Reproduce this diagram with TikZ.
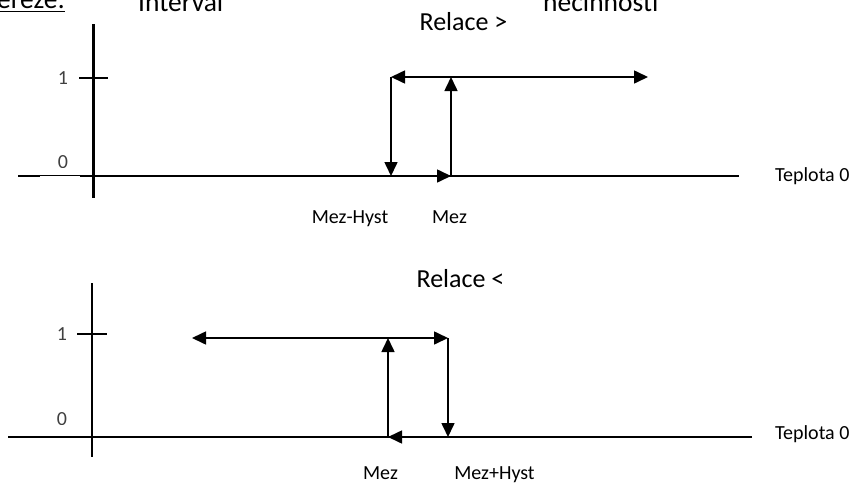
\documentclass[tikz,border=0pt]{standalone}
\usepackage{fontspec}
\setmainfont{Carlito}
\usetikzlibrary{arrows.meta}

\tikzset{
  axis/.style={line width=3pt},
  baseline axis/.style={line width=1.8pt},
  tickmark/.style={line width=2pt},
  flow/.style={line width=1.6pt, -{Triangle[length=14pt,width=13pt]}},
  both/.style={line width=1.6pt, {Triangle[length=14pt,width=13pt]}-{Triangle[length=14pt,width=13pt]}},
  lbl/.style={inner sep=0pt, anchor=base, font=\fontsize{20}{24}\selectfont},
  title/.style={inner sep=0pt, anchor=base, font=\fontsize{26}{30}\selectfont},
  head/.style={inner sep=0pt, font=\fontsize{27.5}{32}\selectfont},
  level/.style={inner sep=0pt, text=black!75, font=\fontsize{20}{24}\selectfont}
}

\begin{document}
\begin{tikzpicture}[x=1pt,y=-1pt]
\useasboundingbox (0,0) rectangle (856,482);
\clip (0,0) rectangle (856,482);

% heading line (only its lower part lies inside the page)
\node[head, anchor=base east] (hdA) at (65,8.5) {Hystereze:};
\draw[line width=1.3pt] (0,11.2) -- (65,11.2);
\node[head, anchor=base west] (hdB) at (138,11) {Interval};
\node[head, anchor=base west] (hdC) at (543,11) {nečinnosti};

% ---------------- relation ">" ----------------
\node[title] (t1) at (463.5,30) {Relace >};

\coordinate (a1top) at (93.5,24);
\coordinate (a1bot) at (93.5,198);
\draw[axis] (a1top) -- (a1bot);
\coordinate (k1l) at (79,78);
\coordinate (k1r) at (108,78);
\draw[tickmark] (k1l) -- (k1r);
\node[level] (one1) at (63,78) {1};
\begin{scope}
  \clip (40,140) rectangle (85,167.5);
  \node[level] (zero1) at (63,162) {0};
\end{scope}

% temperature axis
\coordinate (x1a) at (18,176);
\coordinate (x1b) at (40,176);
\coordinate (x1c) at (80,176);
\coordinate (x1d) at (739,176);
\draw[baseline axis] (x1a) -- (x1b);
\draw[line width=0.9pt] ([yshift=0.4pt]x1b) -- ([yshift=0.4pt]x1c);
\draw[baseline axis] (x1c) -- (x1d);
\node[lbl, anchor=base west] (temp1) at (775,181) {Teplota 0};

% hysteresis loop
\coordinate (o1) at (93.5,176);
\coordinate (m1) at (451,176);
\coordinate (m1top) at (451,77);
\coordinate (h1) at (391,176);
\coordinate (h1top) at (391,77);
\coordinate (r1) at (648,77);
\draw[flow] (o1) -- (m1);
\draw[flow] (m1) -- (m1top);
\draw[flow] (h1top) -- (h1);
\draw[both] (h1top) -- (r1);

\node[lbl] (mh1) at (350,223) {Mez-Hyst};
\node[lbl] (mz1) at (449.5,223) {Mez};

% ---------------- relation "<" ----------------
\node[title] (t2) at (460.5,287) {Relace <};

\coordinate (a2top) at (92,283);
\coordinate (a2bot) at (92,457);
\draw[axis,line width=2.4pt] (a2top) -- (a2bot);
\coordinate (k2l) at (77,334);
\coordinate (k2r) at (107,334);
\draw[tickmark] (k2l) -- (k2r);
\node[level] (one2) at (62,334) {1};
\begin{scope}
  \clip (40,395) rectangle (85,424);
  \node[level] (zero2) at (62,419) {0};
\end{scope}

% temperature axis
\coordinate (x2a) at (8,437);
\coordinate (x2b) at (752,437);
\draw[baseline axis] (x2a) -- (x2b);
\node[lbl, anchor=base west] (temp2) at (775,439) {Teplota 0};

% hysteresis loop
\coordinate (e2) at (752,437);
\coordinate (m2) at (388,437);
\coordinate (m2top) at (388,338);
\coordinate (h2) at (448,437);
\coordinate (h2top) at (448,338);
\coordinate (l2) at (192,338);
\draw[flow] (e2) -- (m2);
\draw[flow] (m2) -- (m2top);
\draw[flow] (h2top) -- (h2);
\draw[both] (l2) -- (h2top);

\node[lbl] (mz2) at (380.5,479) {Mez};
\node[lbl] (mh2) at (494.5,479) {Mez+Hyst};
\end{tikzpicture}
\end{document}
